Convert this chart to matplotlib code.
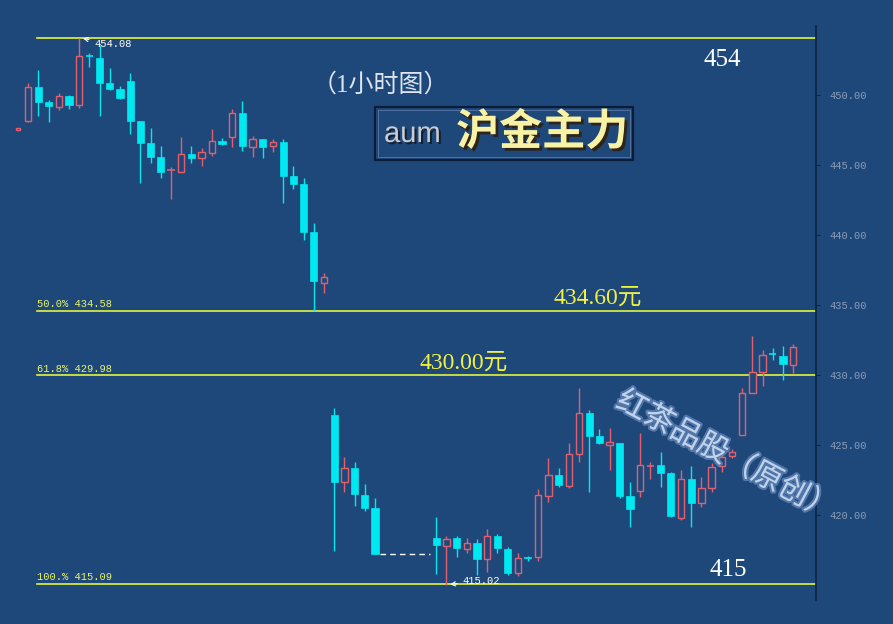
import numpy as np
import matplotlib
matplotlib.use('Agg')
import matplotlib.pyplot as plt
import matplotlib.patheffects as pe
from matplotlib.patches import Rectangle

# aum 1-hour candles (slot index, open, high, low, close)
slots = list(range(0, 36)) + list(range(41, 77))
opens = [447.50, 448.17, 450.55, 449.52, 449.14, 449.95, 449.31, 452.80, 452.64, 450.88,
         450.41, 451.00, 448.17, 446.55, 445.60, 444.60, 444.52, 445.79, 445.48, 445.88,
         446.71, 446.98, 448.69, 446.31, 446.86, 446.36, 446.62, 444.21, 443.64, 440.24,
         436.60, 427.14, 422.34, 423.33, 421.43, 420.50,
         418.38, 417.81, 418.38, 417.57, 417.98, 416.83, 418.50, 417.57, 415.83, 416.92,
         416.98, 421.38, 422.86, 422.09, 424.33, 427.31, 425.64, 425.02, 425.17, 421.36,
         421.74, 423.50, 423.57, 422.98, 419.81, 422.55, 420.83, 421.90, 423.50, 424.21,
         425.71, 428.69, 430.19, 431.50, 431.36, 430.71]
highs = [447.62, 450.88, 451.79, 449.64, 450.12, 450.00, 454.08, 453.02, 453.57, 451.90,
         450.64, 451.55, 448.17, 447.62, 446.36, 444.88, 446.98, 446.36, 446.19, 447.55,
         446.90, 449.02, 449.57, 447.07, 446.86, 446.86, 446.86, 444.93, 444.10, 440.88,
         437.26, 427.62, 424.17, 423.81, 422.21, 421.24,
         419.83, 418.50, 418.50, 418.38, 418.26, 418.98, 418.62, 417.74, 417.26, 417.10,
         421.86, 424.05, 423.38, 425.17, 429.09, 427.50, 426.17, 426.24, 425.17, 422.38,
         425.88, 423.81, 424.48, 423.10, 423.21, 423.52, 422.74, 423.69, 424.52, 424.70,
         429.05, 432.81, 431.79, 431.90, 432.07, 432.21]
lows = [447.50, 448.10, 448.50, 448.10, 448.93, 448.98, 449.07, 451.98, 448.50, 450.36,
        449.71, 447.21, 443.74, 445.12, 444.10, 442.55, 444.50, 445.17, 444.93, 445.64,
        446.40, 446.26, 446.02, 445.55, 445.52, 445.95, 442.26, 443.29, 439.64, 434.60,
        435.83, 417.43, 421.67, 420.64, 420.31, 417.21,
        415.76, 415.02, 417.02, 417.26, 415.71, 415.95, 417.26, 415.71, 415.67, 416.70,
        416.74, 420.95, 422.02, 421.90, 423.81, 421.67, 425.07, 423.21, 421.19, 419.17,
        421.31, 422.55, 422.02, 419.83, 419.64, 419.17, 420.60, 421.67, 423.10, 424.05,
        425.71, 428.69, 429.21, 431.07, 429.64, 430.12]
closes = [447.62, 450.55, 449.52, 449.24, 449.90, 449.31, 452.79, 452.72, 450.88, 450.43,
          449.76, 448.17, 446.60, 445.60, 444.52, 444.66, 445.76, 445.52, 445.90, 446.71,
          446.50, 448.69, 446.38, 446.86, 446.31, 446.62, 444.24, 443.64, 440.24, 436.74,
          437.02, 422.38, 423.33, 421.50, 420.48, 417.21,
          417.86, 418.26, 417.66, 417.98, 416.86, 418.50, 417.66, 415.88, 416.90, 416.88,
          421.43, 422.86, 422.14, 424.33, 427.26, 425.67, 425.17, 425.19, 421.36, 420.41,
          423.57, 423.54, 423.02, 419.93, 422.57, 420.88, 421.90, 423.40, 424.17, 424.48,
          428.69, 430.19, 431.43, 431.46, 430.79, 431.98]

fib_levels = [454.08, 434.58, 429.98, 415.09]
fib_labels = ['', '50.0% 434.58', '61.8% 429.98', '100.% 415.09']
yticks = [420, 425, 430, 435, 440, 445, 450]

BG = '#1e487a'
UP = '#e2606e'
DOWN = '#00e8f0'
FIB = '#e2f43c'

W, H = 893, 624
fig = plt.figure(figsize=(W / 100, H / 100), dpi=100, facecolor=BG)
ax = fig.add_axes([0, 24 / H, 816 / W, 574 / H], facecolor=BG)
ax.set_xlim(-1.765, 78.24)
ax.set_ylim(413.93, 454.93)

# fibonacci lines
for lvl, lab in zip(fib_levels, fib_labels):
    ax.axhline(lvl, xmin=37 / 816, xmax=1, color=FIB, lw=1.2, zorder=1)
    if lab:
        ax.text(1.86, lvl + 0.12, lab, color='#e8f470', fontsize=7.5,
                family='Liberation Mono', va='bottom', ha='left')

# candles
x = np.array(slots)
o, h, l, c = map(np.array, (opens, highs, lows, closes))
up = c >= o
cols = np.where(up, UP, DOWN)
ax.vlines(x, l, h, colors=cols, lw=1, zorder=2)
body = np.abs(c - o)
small = body < 0.08
for i, (xi, oi, ci, u, sm, col) in enumerate(zip(x, o, c, up, small, cols)):
    if sm:
        ax.hlines((oi + ci) / 2, xi - 0.35, xi + 0.35, colors=col, lw=1.2, zorder=3)
        continue
    bottom = min(oi, ci)
    height = abs(ci - oi)
    if u:
        wid = 0.3 if i == 0 else 0.62
        ax.bar(xi, height, bottom=bottom, width=wid, facecolor=BG, edgecolor=col,
               lw=1, zorder=3)
    else:
        ax.bar(xi, height, bottom=bottom, width=0.7, facecolor=col, edgecolor=col,
               lw=0.5, zorder=3)

# gap marker
ax.hlines(closes[35], 35.5, 40.4, colors='white', lw=1, linestyles=(0, (4, 3)), zorder=2)

# high / low annotations
ax.annotate('454.08', xy=(6.1, 454.08), xytext=(7.5, 453.62), color='white',
            fontsize=7.5, family='Liberation Mono', va='center',
            arrowprops=dict(arrowstyle='->', color='white', lw=0.8))
ax.annotate('415.02', xy=(42.1, 415.02), xytext=(43.6, 415.3), color='white',
            fontsize=7.5, family='Liberation Mono', va='center',
            arrowprops=dict(arrowstyle='->', color='white', lw=0.8))

# price notes
serif_cjk = ['Liberation Serif', 'Noto Sans CJK SC']
ax.text(56.8, 434.58 + 0.15, '434.60元', color='#f0f040', fontsize=17,
        family=serif_cjk, ha='center', va='bottom')
ax.text(43.7, 429.98 + 0.15, '430.00元', color='#f0f040', fontsize=17,
        family=serif_cjk, ha='center', va='bottom')

# axis styling
for s in ['top', 'left', 'bottom']:
    ax.spines[s].set_visible(False)
ax.spines['right'].set_color('#0e2440')
ax.spines['right'].set_linewidth(1.2)
ax.set_xticks([])
ax.yaxis.tick_right()
ax.set_yticks(yticks)
ax.set_yticklabels([f'{t:.2f}' for t in yticks])
ax.tick_params(axis='y', colors='#0e2440', labelcolor='#8c9cb8', length=3,
               labelsize=7.5, pad=7)
for t in ax.get_yticklabels():
    t.set_family('Liberation Mono')

# titles
fig.text(380 / W, 1 - 85 / H, '（1小时图）', color='#dde4ee', fontsize=18,
         family=serif_cjk, ha='center', va='center')
fig.patches.append(Rectangle((375 / W, 1 - 160 / H), 258 / W, 53 / H,
                             transform=fig.transFigure, facecolor='none',
                             edgecolor='#0c1c34', lw=1.5))
fig.patches.append(Rectangle((378 / W, 1 - 157 / H), 252 / W, 47 / H,
                             transform=fig.transFigure, facecolor='none',
                             edgecolor='#5a7aa8', lw=0.6))
fig.text(384 / W, 1 - 134 / H, 'aum', color='#c8ccd4', fontsize=21,
         family='Liberation Sans', ha='left', va='center',
         path_effects=[pe.withSimplePatchShadow(offset=(1.5, -1.5), shadow_rgbFace='#101820', alpha=0.8)])
fig.text(542 / W, 1 - 132 / H, '沪金主力', color='#f8f2a4', fontsize=31,
         family='Noto Sans CJK SC', weight='bold', ha='center', va='center',
         path_effects=[pe.withSimplePatchShadow(offset=(2, -2), shadow_rgbFace='#302010', alpha=0.9)])

fig.text(722 / W, 1 - 60 / H, '454', color='white', fontsize=18,
         family='Liberation Serif', ha='center', va='center')
fig.text(728 / W, 1 - 570 / H, '415', color='white', fontsize=18,
         family='Liberation Serif', ha='center', va='center')

# watermark
fig.text(726 / W, 1 - 456 / H, '红茶品股（原创）', color='#c8daf0', fontsize=22,
         family='Noto Sans CJK SC', ha='center', va='center', rotation=-28, alpha=0.9,
         path_effects=[pe.withStroke(linewidth=3, foreground='#6a8cc0', alpha=0.7)])

fig.savefig('out.png', dpi=100, facecolor=BG)
